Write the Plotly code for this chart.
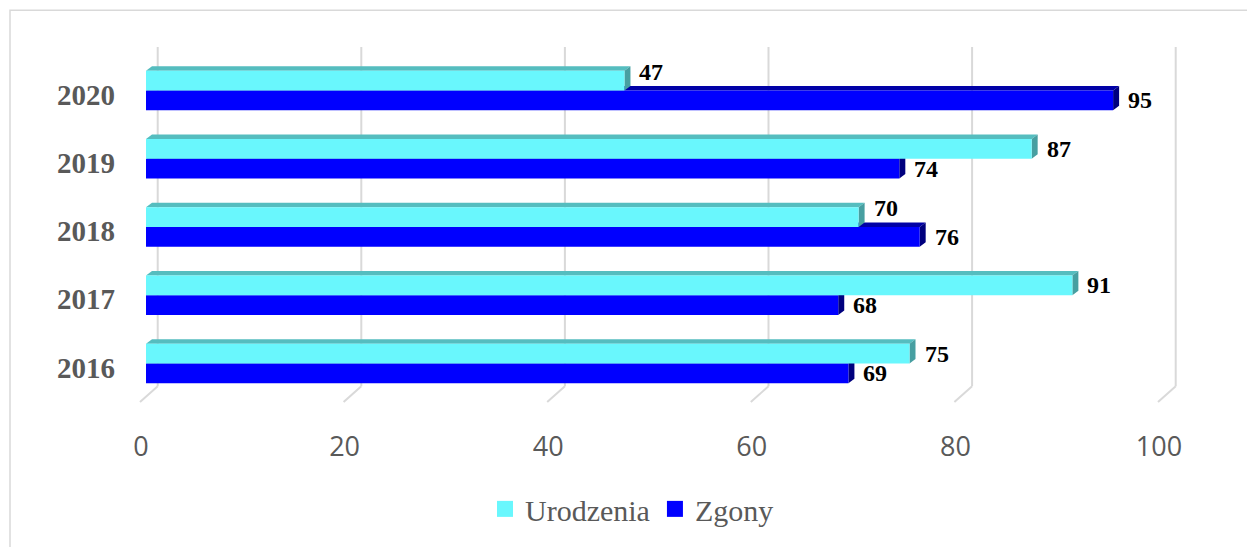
import plotly.graph_objects as go

# ---- data ----
years = [2016, 2017, 2018, 2019, 2020]
urodzenia = [75, 91, 70, 87, 47]
zgony = [69, 68, 76, 74, 95]
x_ticks = [0, 20, 40, 60, 80, 100]
series_names = ["Urodzenia", "Zgony"]

# ---- style ----
W, H = 1247, 547
ML, MR, MT, MB = 136, 42, 40, 137
PPU_X = 10.18          # px per data unit (x)
PPU_Y = 69.0           # px per category (y)
X0_PX = 146            # pixel of x=0 (front plane)
Y2020_PX = 95          # pixel of 2020 category centre

plot_w = W - ML - MR
plot_h = H - MT - MB
xmin = -(X0_PX - ML) / PPU_X
xmax = xmin + plot_w / PPU_X
ytop = 2020 + (Y2020_PX - MT) / PPU_Y
ybot = ytop - plot_h / PPU_Y


def y_at(px):
    return ytop - (px - MT) / PPU_Y


C_CYAN = "#69F7FD"
C_CYAN_TOP = "#55BDBF"
C_CYAN_SIDE = "#479FA1"
C_BLUE = "#0000FF"
C_BLUE_TOP = "#0000A6"
C_BLUE_SIDE = "#00007E"
GRID = "#D9D9D9"

BAR_W = 20 / PPU_Y
OFF_CYAN = (Y2020_PX - 91) / PPU_Y
OFF_BLUE = OFF_CYAN - BAR_W
DX = 6 / PPU_X
DY = 4.5 / PPU_Y

fig = go.Figure()

fig.add_trace(go.Bar(y=years, x=zgony, orientation="h", name=series_names[1],
                     marker=dict(color=C_BLUE, line=dict(width=0)),
                     width=BAR_W, offset=OFF_BLUE, showlegend=False))
fig.add_trace(go.Bar(y=years, x=urodzenia, orientation="h", name=series_names[0],
                     marker=dict(color=C_CYAN, line=dict(width=0)),
                     width=BAR_W, offset=OFF_CYAN, showlegend=False))

# legend entries
fig.add_trace(go.Scatter(x=[None], y=[None], mode="markers", name=series_names[0],
                         marker=dict(symbol="square", size=17, color=C_CYAN)))
fig.add_trace(go.Scatter(x=[None], y=[None], mode="markers", name=series_names[1],
                         marker=dict(symbol="square", size=17, color=C_BLUE)))

shapes = []
# back-wall gridlines with floor diagonal
gx = 11.7 / PPU_X
for k in x_ticks:
    shapes.append(dict(type="line", xref="x", yref="y", x0=k + gx, x1=k + gx,
                       y0=y_at(47), y1=y_at(390), line=dict(color=GRID, width=2),
                       layer="below"))
    shapes.append(dict(type="line", xref="x", yref="y", x0=k + gx, x1=k - 6 / PPU_X,
                       y0=y_at(390), y1=y_at(406), line=dict(color=GRID, width=2),
                       layer="below"))


def faces(vals, off, ctop, cside):
    out = []
    for yr, v in zip(years, vals):
        yb = yr + off
        yt = yb + BAR_W
        top = f"M0,{yt} L{v},{yt} L{v + DX},{yt + DY} L{DX},{yt + DY} Z"
        side = f"M{v},{yb} L{v},{yt} L{v + DX},{yt + DY} L{v + DX},{yb + DY} Z"
        out.append(dict(type="path", xref="x", yref="y", path=top, fillcolor=ctop,
                        line=dict(width=0), layer="below"))
        out.append(dict(type="path", xref="x", yref="y", path=side, fillcolor=cside,
                        line=dict(width=0), layer="below"))
    return out


shapes += faces(zgony, OFF_BLUE, C_BLUE_TOP, C_BLUE_SIDE)
shapes += faces(urodzenia, OFF_CYAN, C_CYAN_TOP, C_CYAN_SIDE)

# chart frame
shapes.append(dict(type="rect", xref="paper", yref="paper",
                   x0=(10 - ML) / plot_w, x1=(1270 - ML) / plot_w,
                   y0=(H - MB - 10) / plot_h, y1=(H - MB - 570) / plot_h,
                   line=dict(color=GRID, width=1.5), fillcolor="rgba(0,0,0,0)"))

annotations = []
lab_font = dict(family="Liberation Serif", size=24, color="#000000")
for yr, u, z in zip(years, urodzenia, zgony):
    raise_px = 9 if z > u else 0
    annotations.append(dict(x=u, y=yr + OFF_CYAN + BAR_W / 2, xref="x", yref="y",
                            text=f"<b>{u}</b>", showarrow=False, xanchor="left",
                            yanchor="middle", xshift=13, yshift=raise_px, font=lab_font))
    annotations.append(dict(x=z, y=yr + OFF_BLUE + BAR_W / 2, xref="x", yref="y",
                            text=f"<b>{z}</b>", showarrow=False, xanchor="left",
                            yanchor="middle", xshift=13, font=lab_font))

fig.update_layout(
    width=W, height=H,
    margin=dict(l=ML, r=MR, t=MT, b=MB, pad=0),
    paper_bgcolor="white", plot_bgcolor="white",
    barmode="overlay",
    shapes=shapes, annotations=annotations,
    xaxis=dict(range=[xmin, xmax], tickvals=x_ticks, ticktext=[str(t) for t in x_ticks],
               showgrid=False, zeroline=False, showline=False, ticks="",
               tickfont=dict(family="Open Sans", size=27, color="#595959"),
               ticklabelshift=-5, ticklabelstandoff=22, fixedrange=True),
    yaxis=dict(range=[ybot, ytop], tickvals=years, ticktext=[str(y) for y in years],
               showgrid=False, zeroline=False, showline=False, ticks="",
               tickfont=dict(family="Liberation Serif", size=29, color="#595959",
                             weight="bold"),
               ticklabelstandoff=20, fixedrange=True),
    legend=dict(orientation="h", x=(632 - ML) / plot_w, xanchor="center",
                y=(H - MB - 514) / plot_h, yanchor="middle",
                font=dict(family="Liberation Serif", size=30, color="#595959"),
                itemwidth=30, bgcolor="rgba(0,0,0,0)", tracegroupgap=0),
    showlegend=True,
)

fig.write_html("out.html", config={"displayModeBar": False},
               post_script="document.body.style.margin='0';")
